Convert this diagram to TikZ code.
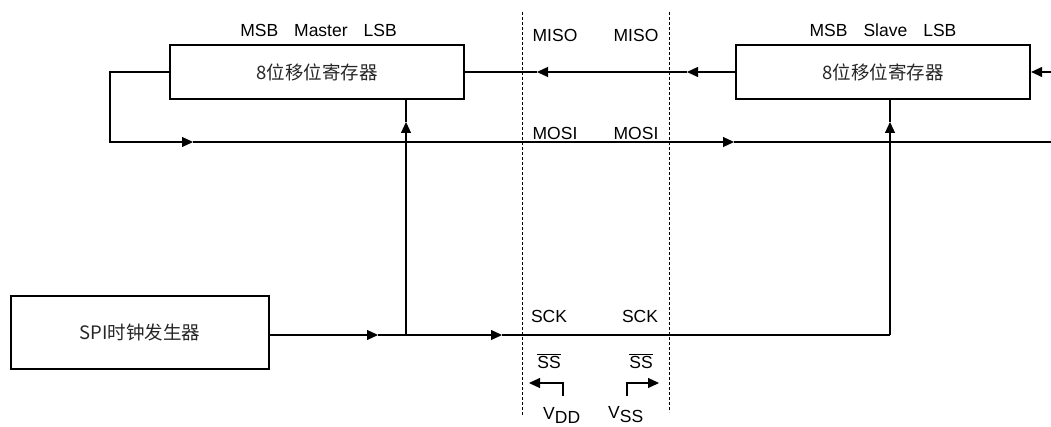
\documentclass[tikz,border=0pt]{standalone}
\usepackage{fontspec}
\setmainfont{Liberation Sans}
\newfontfamily\cjk{Noto Sans CJK SC}
\usetikzlibrary{arrows.meta}
\begin{document}
\begin{tikzpicture}[x=1pt,y=-1pt,
  box/.style={draw, line width=2.2pt, rectangle, inner sep=0pt, text=black!85, font=\cjk\fontsize{18.5}{22}\selectfont},
  wire/.style={line width=1.1pt},
  tip/.style={wire,-{Triangle[length=11pt,width=10pt]}},
  lbl/.style={font=\fontsize{17.5}{20}\selectfont, inner sep=0pt},
  sep/.style={line width=0.9pt, dash pattern=on 3pt off 2pt}]
\useasboundingbox (0,0) rectangle (1051,427);
% boxes
\node[box, minimum width=294pt, minimum height=54pt] (master) at (317,72) {8位移位寄存器};
\node[box, minimum width=294pt, minimum height=54pt] (slave) at (883,72) {8位移位寄存器};
\node[box, minimum width=258pt, minimum height=73pt] (clk) at (140,332.5) {SPI时钟发生器};
% coordinates
\coordinate (ms1) at (406,335);
\coordinate (sl1) at (890,335);
\coordinate (a1) at (378,335);
\coordinate (a2) at (502,335);
\coordinate (mv) at (406,122);
\coordinate (sv) at (890,122);
\coordinate (mi1) at (687,72);
\coordinate (mi2) at (537,72);
\coordinate (rin) at (1051,72);
\coordinate (l1) at (110,72);
\coordinate (l2) at (110,142);
\coordinate (mo1) at (193,142);
\coordinate (mo2) at (734,142);
\coordinate (moEnd) at (1051,142);
% SCK line
\draw[tip] (clk.east |- ms1) -- (a1);
\draw[tip] (a1) -- (a2);
\draw[wire] (a2) -- (sl1);
% verticals
\draw[tip] (ms1) -- (mv);
\draw[wire] (mv) -- (ms1 |- master.south);
\draw[tip] (sl1) -- (sv);
\draw[wire] (sv) -- (sl1 |- slave.south);
% MISO
\draw[tip] (slave.west) -- (mi1);
\draw[tip] (mi1) -- (mi2);
\draw[wire] (mi2) -- (master.east);
\draw[tip] (rin) -- (slave.east);
% MOSI loop
\draw[tip] (master.west) -- (l1) -- (l2) -- (mo1);
\draw[tip] (mo1) -- (mo2);
\draw[wire] (mo2) -- (moEnd);
% separators
\coordinate (d1t) at (522,12); \coordinate (d1b) at (522,415);
\coordinate (d2t) at (669,12); \coordinate (d2b) at (669,412);
\draw[sep] (d1t) -- (d1b);
\draw[sep] (d2t) -- (d2b);
% SS brackets
\coordinate (b1) at (563,396); \coordinate (b1e) at (529,383);
\coordinate (b2) at (627,396); \coordinate (b2e) at (659,383);
\draw[tip] (b1) |- (b1e);
\draw[tip] (b2) |- (b2e);
% labels
\node[lbl] (mlab) at (318.5,30) {MSB\hspace{16pt}Master\hspace{16pt}LSB};
\node[lbl] (slab) at (883,30) {MSB\hspace{16pt}Slave\hspace{16pt}LSB};
\node[lbl] (miso1) at (555,35.5) {MISO};
\node[lbl] (miso2) at (636,35.5) {MISO};
\node[lbl] (mosi1) at (555,133.5) {MOSI};
\node[lbl] (mosi2) at (636,133.5) {MOSI};
\node[lbl] (sck1) at (549,316.5) {SCK};
\node[lbl] (sck2) at (640,316.5) {SCK};
\node[lbl] (ss1) at (549,361) {$\overline{\mbox{SS}}$};
\node[lbl] (ss2) at (641,361) {$\overline{\mbox{SS}}$};
\node[lbl, anchor=base west] (vdd) at (543,419) {V\raisebox{-4pt}{DD}};
\node[lbl, anchor=base west] (vss) at (608,418) {V\raisebox{-4pt}{SS}};
\end{tikzpicture}
\end{document}
